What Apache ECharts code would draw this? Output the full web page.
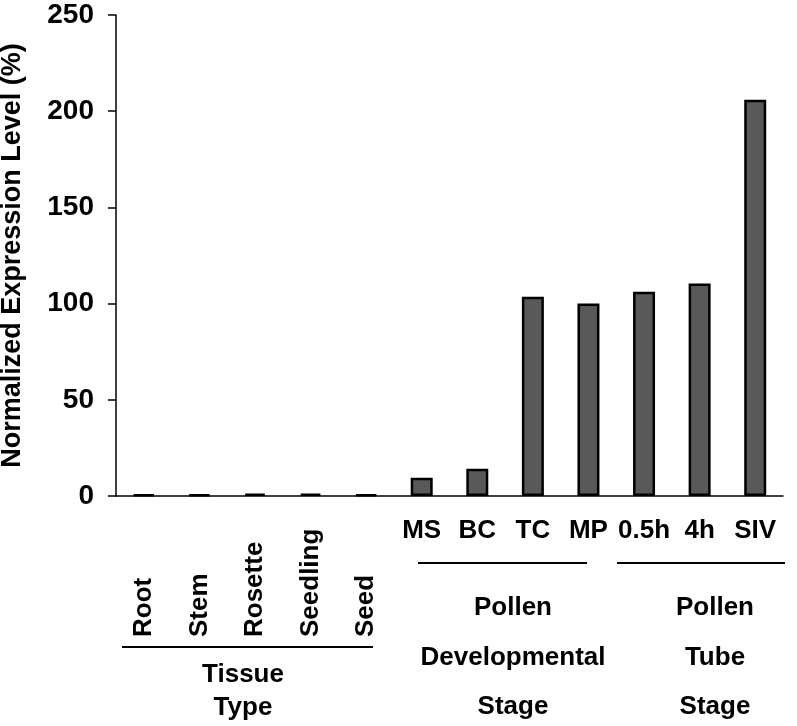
<!DOCTYPE html>
<html><head><meta charset="utf-8">
<script src="https://cdn.jsdelivr.net/npm/echarts@6/dist/echarts.min.js"></script>
<style>html,body{margin:0;padding:0;background:#fff}#c{width:797px;height:726px}</style>
</head><body><div id="c"></div>
<script>
const categories = ['Root','Stem','Rosette','Seedling','Seed','MS','BC','TC','MP','0.5h','4h','SIV'];
const values = [0.8, 0.8, 1.2, 1.2, 0.8, 9.5, 14.2, 103.5, 100, 106.2, 110.5, 206];
const tissueCats = ['Root','Stem','Rosette','Seedling','Seed'];
const yTicks = [0, 50, 100, 150, 200, 250];
const groupLabels = [['Tissue','Type'], ['Pollen','Developmental','Stage'], ['Pollen','Tube','Stage']];

const FONT = '"Liberation Sans", Arial, sans-serif';
const chart = echarts.init(document.getElementById('c'), null, {renderer:'canvas'});
const txt = (t, x, y) => ({type:'text', style:{text:t, x:x, y:y, fill:'#000', font:'bold 26px ' + FONT, textAlign:'center', textVerticalAlign:'middle'}});
const ln = (x1, x2, y) => ({type:'line', shape:{x1:x1, y1:y, x2:x2, y2:y}, style:{stroke:'#000', lineWidth:2}});
const graphics = [
  ln(122, 373, 647), ln(418, 587, 563), ln(617, 785, 563),
  txt(groupLabels[0][0], 243, 675), txt(groupLabels[0][1], 243, 708),
  txt(groupLabels[1][0], 513, 608), txt(groupLabels[1][1], 513, 658), txt(groupLabels[1][2], 513, 707),
  txt(groupLabels[2][0], 715, 608), txt(groupLabels[2][1], 715, 658), txt(groupLabels[2][2], 715, 707)
];
chart.setOption({
  animation:false,
  backgroundColor:'#fff',
  grid:{left:116, right:14, top:15, bottom:230, containLabel:false, outerBoundsMode:'none'},
  xAxis:[{
    type:'category', data:categories, position:'bottom',
    axisLine:{show:true, lineStyle:{color:'#000', width:1.5}},
    axisTick:{show:false},
    axisLabel:{interval:0, rotate:90, align:'left', verticalAlign:'middle', margin:141,
      fontFamily:FONT, fontWeight:'bold', fontSize:26, color:'#000',
      formatter:(v)=> tissueCats.includes(v) ? v : ''}
  },{
    type:'category', data:categories, position:'bottom',
    axisLine:{show:false}, axisTick:{show:false},
    axisLabel:{interval:0, margin:22, fontFamily:FONT, fontWeight:'bold', fontSize:26, color:'#000',
      formatter:(v)=> tissueCats.includes(v) ? '' : v}
  }],
  yAxis:{
    type:'value', min:yTicks[0], max:yTicks[yTicks.length-1], interval:50,
    name:'Normalized Expression Level (%)', nameLocation:'middle', nameRotate:90, nameGap:90,
    nameTextStyle:{fontFamily:FONT, fontWeight:'bold', fontSize:27, color:'#000'},
    axisLine:{show:true, lineStyle:{color:'#000', width:1.5}},
    axisTick:{show:true, inside:false, length:8, lineStyle:{color:'#000', width:1.5}},
    axisLabel:{margin:22, fontFamily:FONT, fontWeight:'bold', fontSize:28, color:'#000'},
    splitLine:{show:false}
  },
  series:[{
    type:'bar', data:values, xAxisIndex:0, barWidth:22,
    itemStyle:{color:'#595959', borderColor:'#000', borderWidth:2.5}
  }],
  graphic:graphics
});
</script></body></html>
